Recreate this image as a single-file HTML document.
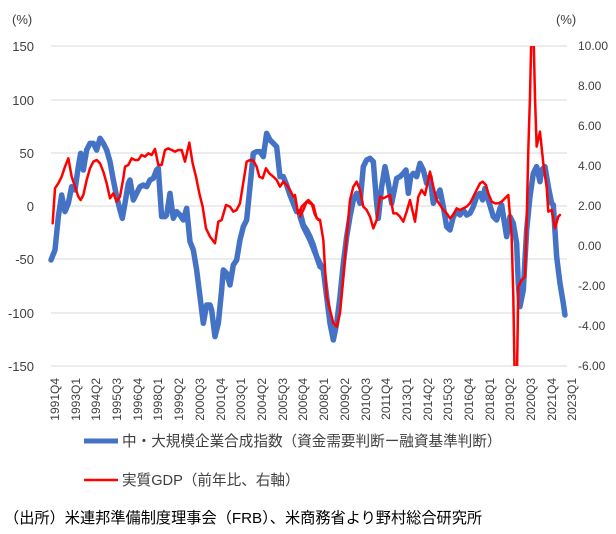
<!DOCTYPE html>
<html><head><meta charset="utf-8"><style>
html,body{margin:0;padding:0;background:#fff;width:616px;height:534px;overflow:hidden}
svg{display:block;font-family:"Liberation Sans","Noto Sans CJK JP",sans-serif}
</style></head><body>
<svg width="616" height="534" viewBox="0 0 616 534">
<defs><clipPath id="c"><rect x="40" y="46" width="540" height="320"/></clipPath></defs>
<g stroke="#d9d9d9" stroke-width="1">
<line x1="51" x2="567" y1="46" y2="46"/><line x1="51" x2="567" y1="100" y2="100"/>
<line x1="51" x2="567" y1="153" y2="153"/><line x1="51" x2="567" y1="206" y2="206"/>
<line x1="51" x2="567" y1="259" y2="259"/><line x1="51" x2="567" y1="313" y2="313"/>
<line x1="51" x2="567" y1="366" y2="366"/>
</g>
<g font-size="13" fill="#404040" text-anchor="end">
<text x="34" y="51">150</text><text x="34" y="105">100</text><text x="34" y="158">50</text>
<text x="34" y="211">0</text><text x="34" y="264">-50</text><text x="34" y="318">-100</text><text x="34" y="371">-150</text>
</g>
<g font-size="12" fill="#404040" text-anchor="start">
<text x="578" y="50">10.00</text><text x="578" y="90">8.00</text><text x="578" y="130">6.00</text>
<text x="578" y="170">4.00</text><text x="578" y="210">2.00</text><text x="578" y="250">0.00</text>
<text x="578" y="290">-2.00</text><text x="578" y="330">-4.00</text><text x="578" y="370">-6.00</text>
</g>
<text x="12" y="24" font-size="13" fill="#404040">(%)</text>
<text x="556" y="24" font-size="13" fill="#404040">(%)</text>
<g clip-path="url(#c)" fill="none" stroke-linejoin="round" stroke-linecap="round">
<g transform="translate(40,30) scale(0.3333)">
<polyline vector-effect="non-scaling-stroke" stroke="#4472c4" stroke-width="5.5" points="33,690 45,660 55,560 65,495 75,545 85,520 95,470 105,480 115,410 122,370 130,420 140,360 150,340 160,340 170,360 180,325 190,340 200,360 210,395 220,450 230,500 240,540 247,565 255,520 265,460 270,450 280,510 290,490 300,470 310,465 320,470 330,450 340,445 350,420 355,415 365,560 375,560 380,555 390,490 400,565 410,545 420,555 430,570 440,535 450,635 460,660 470,720 480,800 490,880 500,825 510,825 515,840 525,920 535,880 545,780 550,720 560,730 570,765 580,705 590,690 600,630 610,590 620,570 630,470 640,370 650,365 660,365 670,380 680,310 690,330 700,340 710,350 720,440 730,440 740,465 750,495 760,520 770,545 780,545 790,585 800,600 810,620 820,645 830,680 840,710"/>
<polyline vector-effect="non-scaling-stroke" stroke="#ff0000" stroke-width="2.5" points="38,580 45,475 55,460 65,440 75,410 85,385 95,440 105,470 115,500 122,510 130,495 140,450 150,415 160,395 170,390 180,400 190,425 200,460 210,505 220,490 230,515 240,500 250,445 255,410 265,405 275,385 285,390 295,390 305,375 315,380 325,370 335,375 345,357 355,405 365,405 375,360 385,355 395,360 405,365 415,360 425,360 435,395 448,338 458,400 468,440 478,490 488,530 498,595 510,620 525,640 535,575 545,570 558,525 570,530 580,545 590,540 600,520 608,470 620,395 630,390 640,392 650,410 658,440 668,445 678,415 688,430 700,440 710,450 720,470 730,455 740,465 750,480 760,500 765,495 775,555 785,530 795,520 805,510 815,520 825,555 835,570 840,570"/>
</g>
<g transform="translate(300,30) scale(0.3333)">
<polyline vector-effect="non-scaling-stroke" stroke="#4472c4" stroke-width="5.5" points="0,560 10,590 30,630 50,680 70,720 80,800 90,880 100,930 110,880 120,800 130,700 140,620 150,560 160,510 170,490 180,520 190,410 200,390 210,385 220,395 230,520 235,565 245,470 255,410 265,460 275,520 285,470 290,445 300,440 310,430 318,420 325,490 332,440 340,430 350,440 360,400 370,420 380,460 390,440 400,520 410,500 420,480 430,530 440,590 450,600 460,560 470,545 480,555 490,540 500,555 510,550 520,530 530,500 540,490 548,510 555,475 565,510 580,560 590,570 600,535 605,525 612,570 620,620 630,560 640,580 650,640 655,760 660,830 670,780 680,600 690,500 700,430 710,410 720,455 725,420 735,410 745,470 755,520 760,525 770,680 780,760 790,820 795,855"/>
<polyline vector-effect="non-scaling-stroke" stroke="#ff0000" stroke-width="2.5" points="0,560 10,540 20,515 30,520 40,525 50,565 60,570 70,630 80,800 90,840 100,880 110,890 120,850 130,740 140,620 150,510 160,470 170,455 180,480 190,530 200,540 210,560 220,595 230,570 240,500 250,505 260,500 270,495 280,550 290,550 300,560 310,575 320,545 330,510 345,575 355,500 365,480 375,495 390,425 400,470 410,510 420,525 430,540 440,550 450,565 460,555 470,535 480,540 490,535 500,530 510,520 520,500 530,480 540,460 548,455 558,465 565,490 575,515 585,520 595,520 605,515 615,505 625,495 635,620 640,800 645,1100 650,1100 655,770 665,750 675,740 680,580 685,360 690,200 695,-20 700,-20 705,200 710,350 720,305 730,400 740,470 745,545 755,540 765,595 775,560 780,555"/>
</g>
</g>
<g font-size="12" fill="#404040" text-anchor="end">
<text transform="translate(59,378) rotate(-90)">1991Q4</text>
<text transform="translate(80,378) rotate(-90)">1993Q1</text>
<text transform="translate(100,378) rotate(-90)">1994Q2</text>
<text transform="translate(121,378) rotate(-90)">1995Q3</text>
<text transform="translate(142,378) rotate(-90)">1996Q4</text>
<text transform="translate(162,378) rotate(-90)">1998Q1</text>
<text transform="translate(183,378) rotate(-90)">1999Q2</text>
<text transform="translate(204,378) rotate(-90)">2000Q3</text>
<text transform="translate(225,378) rotate(-90)">2001Q4</text>
<text transform="translate(245,378) rotate(-90)">2003Q1</text>
<text transform="translate(266,378) rotate(-90)">2004Q2</text>
<text transform="translate(287,378) rotate(-90)">2005Q3</text>
<text transform="translate(307,378) rotate(-90)">2006Q4</text>
<text transform="translate(328,378) rotate(-90)">2008Q1</text>
<text transform="translate(349,378) rotate(-90)">2009Q2</text>
<text transform="translate(370,378) rotate(-90)">2010Q3</text>
<text transform="translate(390,378) rotate(-90)">2011Q4</text>
<text transform="translate(411,378) rotate(-90)">2013Q1</text>
<text transform="translate(432,378) rotate(-90)">2014Q2</text>
<text transform="translate(452,378) rotate(-90)">2015Q3</text>
<text transform="translate(473,378) rotate(-90)">2016Q4</text>
<text transform="translate(494,378) rotate(-90)">2018Q1</text>
<text transform="translate(514,378) rotate(-90)">2019Q2</text>
<text transform="translate(535,378) rotate(-90)">2020Q3</text>
<text transform="translate(556,378) rotate(-90)">2021Q4</text>
<text transform="translate(576,378) rotate(-90)">2023Q1</text>
</g>
<line x1="84" x2="118" y1="441" y2="441" stroke="#4472c4" stroke-width="5"/>
<text x="122" y="446" font-size="14.6" fill="#404040">中・大規模企業合成指数（資金需要判断ー融資基準判断）</text>
<line x1="84" x2="118" y1="480" y2="480" stroke="#ff0000" stroke-width="2.5"/>
<text x="122" y="485" font-size="14.6" fill="#404040">実質GDP（前年比、右軸）</text>
<text x="4" y="523" font-size="15.2" fill="#000">（出所）米連邦準備制度理事会（FRB）、米商務省より野村総合研究所</text>
</svg>
</body></html>
